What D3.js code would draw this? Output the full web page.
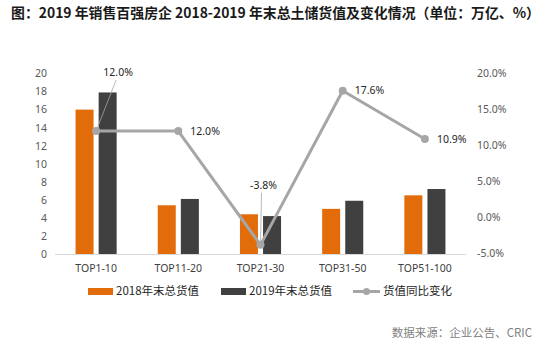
<!DOCTYPE html>
<html>
<head>
<meta charset="utf-8">
<script src="https://cdn.jsdelivr.net/npm/d3@7"></script>
<style>
  body { margin: 0; background: #fff; }
  svg { display: block; font-family: "Noto Sans", "Noto Sans CJK SC", sans-serif; }
</style>
</head>
<body>
<div id="chart"></div>
<script>
const categories = ["TOP1-10", "TOP11-20", "TOP21-30", "TOP31-50", "TOP51-100"];
const seriesNames = ["2018年末总货值", "2019年末总货值"];
const values2018 = [16.0, 5.4, 4.4, 5.0, 6.5];
const values2019 = [17.9, 6.1, 4.2, 5.9, 7.2];
const lineName = "货值同比变化";
const changePct = [12.0, 12.0, -3.8, 17.6, 10.9];
const leftTicks = [0, 2, 4, 6, 8, 10, 12, 14, 16, 18, 20];
const rightTicks = [-5, 0, 5, 10, 15, 20];

const W = 553, H = 345;
const colors = ["#e36c0a", "#404040"];
const lineColor = "#a6a6a6";

// hand-placed data label offsets (Excel-style moved labels)
const labelPos = [
  { dx: 22, dy: -59, anchor: "middle", leader: true },
  { dx: 12, dy: 0, anchor: "start" },
  { dx: 3, dy: -60, anchor: "middle", leader: true },
  { dx: 12, dy: 0, anchor: "start" },
  { dx: 12, dy: 0, anchor: "start" }
];

const svg = d3.select("#chart").append("svg")
  .attr("width", W).attr("height", H);

svg.append("rect").attr("width", W).attr("height", H).attr("fill", "#fff");

svg.append("text")
  .attr("x", 11).attr("y", 18)
  .attr("font-family", "'Noto Sans CJK SC', sans-serif")
  .attr("font-weight", "bold")
  .attr("font-size", 14)
  .attr("fill", "#1a1a1a")
  .attr("textLength", 529)
  .attr("lengthAdjust", "spacingAndGlyphs")
  .text("图：2019 年销售百强房企 2018-2019 年末总土储货值及变化情况（单位：万亿、%）");

const x = d3.scaleBand().domain(categories).range([55, 466]);
const x1 = d3.scaleBand().domain(seriesNames)
  .range([x.bandwidth() * 0.25, x.bandwidth() * 0.75]).paddingInner(0.22);
const y = d3.scaleLinear().domain([0, 20]).range([254, 73.5]);
const y2 = d3.scaleLinear().domain([-5, 20]).range([253.5, 73.5]);

// left axis
const gl = svg.append("g").attr("transform", "translate(55,0)")
  .call(d3.axisLeft(y).tickValues(leftTicks).tickSize(0).tickPadding(8));
gl.select(".domain").remove();
gl.selectAll("text").attr("font-size", 10.5).attr("fill", "#595959")
  .attr("font-family", "'Noto Sans', sans-serif");

// right axis
const gr = svg.append("g").attr("transform", "translate(466,0)")
  .call(d3.axisRight(y2).tickValues(rightTicks).tickSize(0).tickPadding(11)
    .tickFormat(d => d.toFixed(1) + "%"));
gr.select(".domain").remove();
gr.selectAll("text").attr("font-size", 10.5).attr("fill", "#595959")
  .attr("font-family", "'Noto Sans', sans-serif");

// bars
const rows = categories.map((c, i) => ({ cat: c, vals: [values2018[i], values2019[i]] }));
const groups = svg.append("g").selectAll("g").data(rows).join("g")
  .attr("transform", d => `translate(${x(d.cat)},0)`);
groups.selectAll("rect")
  .data(d => d.vals.map((v, j) => ({ name: seriesNames[j], v, j })))
  .join("rect")
  .attr("x", d => x1(d.name))
  .attr("y", d => y(d.v))
  .attr("width", x1.bandwidth())
  .attr("height", d => y(0) - y(d.v))
  .attr("fill", d => colors[d.j]);

// baseline
svg.append("line")
  .attr("x1", 55).attr("x2", 466)
  .attr("y1", y(0) + 0.5).attr("y2", y(0) + 0.5)
  .attr("stroke", "#d9d9d9").attr("stroke-width", 1);

// category labels
const gx = svg.append("g").attr("transform", `translate(0,${y(0)})`)
  .call(d3.axisBottom(x).tickSize(0).tickPadding(11));
gx.select(".domain").remove();
gx.selectAll("text").attr("font-size", 10.5).attr("fill", "#404040")
  .attr("font-family", "'Noto Sans', sans-serif");

// line
const pts = categories.map((c, i) => ({ x: x(c) + x.bandwidth() / 2, y: y2(changePct[i]), v: changePct[i], i }));
svg.append("path")
  .datum(pts)
  .attr("fill", "none")
  .attr("stroke", lineColor)
  .attr("stroke-width", 3)
  .attr("stroke-linejoin", "round")
  .attr("d", d3.line().x(d => d.x).y(d => d.y));
svg.append("g").selectAll("circle").data(pts).join("circle")
  .attr("cx", d => d.x).attr("cy", d => d.y).attr("r", 4)
  .attr("fill", lineColor);

// data labels
pts.forEach(p => {
  const lp = labelPos[p.i];
  if (lp.leader) {
    svg.append("line")
      .attr("x1", p.x + lp.dx - 2).attr("y1", p.y + lp.dy + 8)
      .attr("x2", p.x).attr("y2", p.y)
      .attr("stroke", "#a6a6a6").attr("stroke-width", 0.8);
  }
  svg.append("text")
    .attr("x", p.x + lp.dx).attr("y", p.y + lp.dy)
    .attr("dy", "0.35em")
    .attr("text-anchor", lp.anchor)
    .attr("font-size", 10.5)
    .attr("fill", "#262626")
    .text(p.v.toFixed(1) + "%");
});

// legend
const lg = svg.append("g").attr("transform", "translate(0,291)")
  .attr("font-family", "'Noto Sans CJK SC', sans-serif").attr("font-size", 11.5).attr("fill", "#262626");
const legendX = [88, 221];
seriesNames.forEach((n, j) => {
  lg.append("rect").attr("x", legendX[j]).attr("y", -3).attr("width", 25).attr("height", 7).attr("fill", colors[j]);
  lg.append("text").attr("x", legendX[j] + 28).attr("y", 0).attr("dy", "0.36em").text(n);
});
lg.append("line").attr("x1", 353).attr("x2", 380).attr("y1", 0.5).attr("y2", 0.5)
  .attr("stroke", lineColor).attr("stroke-width", 3);
lg.append("circle").attr("cx", 366.5).attr("cy", 0.5).attr("r", 3.5).attr("fill", lineColor);
lg.append("text").attr("x", 383).attr("y", 0).attr("dy", "0.36em").text(lineName);

// source
svg.append("text")
  .attr("x", 532).attr("y", 333).attr("dy", "0.36em")
  .attr("text-anchor", "end")
  .attr("font-family", "'Noto Sans CJK SC', sans-serif")
  .attr("font-size", 11.5)
  .attr("fill", "#7f7f7f")
  .text("数据来源：企业公告、CRIC");
</script>
</body>
</html>
